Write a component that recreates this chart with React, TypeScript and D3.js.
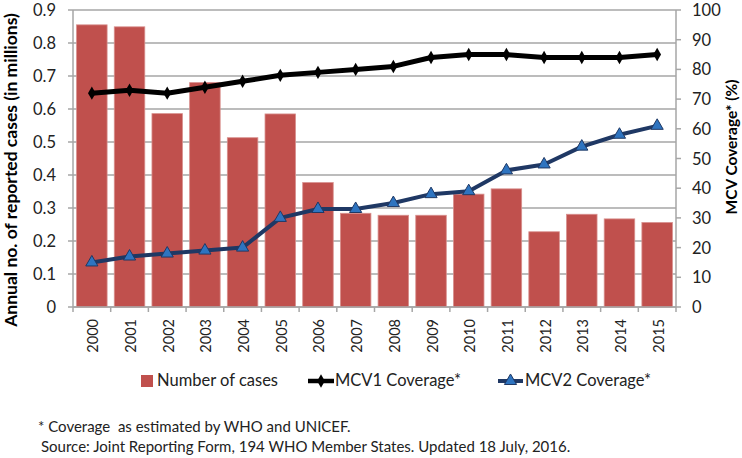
import React from "react";
import * as d3 from "d3";

const years = ["2000","2001","2002","2003","2004","2005","2006","2007","2008","2009","2010","2011","2012","2013","2014","2015"];
const cases = [0.855,0.849,0.586,0.680,0.513,0.585,0.377,0.284,0.278,0.278,0.342,0.358,0.228,0.281,0.267,0.256];
const mcv1 = [72,73,72,74,76,78,79,80,81,84,85,85,84,84,84,85];
const mcv2 = [15,17,18,19,20,30,33,33,35,38,39,46,48,54,58,61];
const leftTicks = [0,0.1,0.2,0.3,0.4,0.5,0.6,0.7,0.8,0.9];
const rightTicks = [0,10,20,30,40,50,60,70,80,90,100];

const W = 742, H = 458;
const L = 73, R = 676, T = 10, B = 307;
const FONT = "Lato, 'Open Sans', sans-serif";
const GRID = "#a6a6a6";
const BAR = "#c0504d";
const NAVY = "#1f3864";
const TRI = "#2e74c0";

export default function App() {
  const x = d3.scaleBand<string>().domain(years).range([L, R]).paddingInner(0.19).paddingOuter(0.095);
  const yL = d3.scaleLinear().domain([0, 0.9]).range([B, T]);
  const yR = d3.scaleLinear().domain([0, 100]).range([B, T]);
  const cx = (d: string) => (x(d) as number) + x.bandwidth() / 2;
  const step = x.step();
  const line = d3.line<number>().x((_, i) => cx(years[i])).y((v) => yR(v));
  const tri = d3.symbol().type(d3.symbolTriangle).size(64)();
  const dia = d3.symbol().type(d3.symbolDiamond).size(52)();

  return (
    <svg width={W} height={H} style={{ position: "absolute", left: 0, top: 0, background: "#fff" }} fontFamily={FONT}>
      {leftTicks.map((t) => (
        <line key={"g" + t} x1={L} x2={R} y1={yL(t)} y2={yL(t)} stroke={GRID} strokeWidth={1.5} />
      ))}
      {years.map((yr, i) => (
        <rect key={"b" + yr} x={x(yr)} y={yL(cases[i])} width={x.bandwidth()} height={B - yL(cases[i])} fill={BAR} stroke="#d8908e" strokeWidth={0.8} />
      ))}
      <line x1={L} x2={L} y1={T} y2={B} stroke={GRID} strokeWidth={1.5} />
      <line x1={R} x2={R} y1={T} y2={B} stroke={GRID} strokeWidth={1.5} />
      <line x1={L} x2={R} y1={B} y2={B} stroke={GRID} strokeWidth={1.5} />
      {leftTicks.map((t) => (
        <g key={"lt" + t}>
          <line x1={L - 5} x2={L} y1={yL(t)} y2={yL(t)} stroke={GRID} strokeWidth={1.5} />
          <text x={56} y={yL(t)} textAnchor="end" dominantBaseline="central" fontSize={16.5} fill="#222">{d3.format("~g")(t)}</text>
        </g>
      ))}
      {rightTicks.map((t) => (
        <g key={"rt" + t}>
          <line x1={R} x2={R + 5} y1={yR(t)} y2={yR(t)} stroke={GRID} strokeWidth={1.5} />
          <text x={692} y={yR(t)} textAnchor="start" dominantBaseline="central" fontSize={16.5} fill="#222">{t}</text>
        </g>
      ))}
      {d3.range(years.length + 1).map((i) => (
        <line key={"xt" + i} x1={L + i * step} x2={L + i * step} y1={B} y2={B + 5} stroke={GRID} strokeWidth={1.5} />
      ))}
      {years.map((yr) => (
        <text key={"xl" + yr} transform={`translate(${cx(yr) + 1},319) rotate(-90)`} textAnchor="end" dominantBaseline="central" fontSize={14.5} fill="#222">{yr}</text>
      ))}
      <path d={line(mcv1) || ""} fill="none" stroke="#000" strokeWidth={5} strokeLinejoin="round" />
      {mcv1.map((v, i) => (
        <path key={"d" + i} d={dia || ""} transform={`translate(${cx(years[i])},${yR(v)})`} fill="#000" />
      ))}
      <path d={line(mcv2) || ""} fill="none" stroke={NAVY} strokeWidth={4} strokeLinejoin="round" />
      {mcv2.map((v, i) => (
        <path key={"t" + i} d={tri || ""} transform={`translate(${cx(years[i])},${yR(v)})`} fill={TRI} stroke={NAVY} strokeWidth={1} />
      ))}
      <text transform="translate(10,170) rotate(-90)" textAnchor="middle" dominantBaseline="central" fontSize={17.5} fontWeight="bold" fill="#000">Annual no. of reported cases (in millions)</text>
      <text transform="translate(731,147) rotate(-90)" textAnchor="middle" dominantBaseline="central" fontSize={15.5} fontWeight="bold" fill="#000">MCV Coverage* (%)</text>
      <rect x={141} y={375} width={12} height={12} fill={BAR} />
      <text x={157} y={386} fontSize={16.5} fill="#222">Number of cases</text>
      <line x1={308} x2={334} y1={381} y2={381} stroke="#000" strokeWidth={4.5} />
      <path d={dia || ""} transform="translate(321,381)" fill="#000" />
      <text x={335} y={386} fontSize={16.5} fill="#222">MCV1 Coverage*</text>
      <line x1={498} x2={523} y1={381} y2={381} stroke={NAVY} strokeWidth={4} />
      <path d={tri || ""} transform="translate(510.5,381)" fill={TRI} stroke={NAVY} strokeWidth={1} />
      <text x={525} y={386} fontSize={16.5} fill="#222">MCV2 Coverage*</text>
      <text x={38} y={432} fontSize={15} fill="#222" style={{ whiteSpace: "pre" }}>{"* Coverage  as estimated by WHO and UNICEF."}</text>
      <text x={41} y={452} fontSize={15} fill="#222">Source: Joint Reporting Form, 194 WHO Member States. Updated 18 July, 2016.</text>
    </svg>
  );
}
